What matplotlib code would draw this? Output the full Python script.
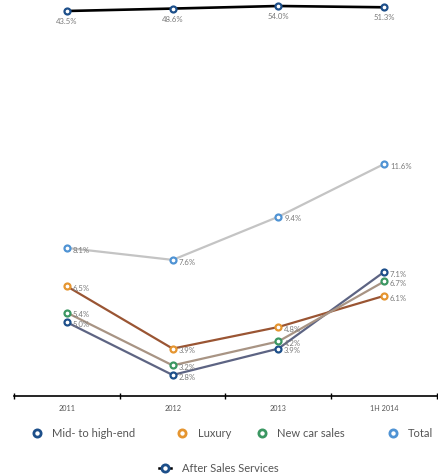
import matplotlib
matplotlib.use("Agg")
import matplotlib.pyplot as plt
from matplotlib.lines import Line2D

plt.rcParams['font.family'] = ['Lato', 'DejaVu Sans']

periods = ["2011", "2012", "2013", "1H 2014"]
mid_high = [5.0, 2.8, 3.9, 7.1]
luxury = [6.5, 3.9, 4.8, 6.1]
new_car = [5.4, 3.2, 4.2, 6.7]
total = [8.1, 7.6, 9.4, 11.6]
after_sales = [43.5, 48.6, 54.0, 51.3]

series = [
    ("Mid- to high-end", mid_high, "#5d6483", "#1d4f8a"),
    ("Luxury", luxury, "#9a5533", "#e59530"),
    ("New car sales", new_car, "#a89484", "#3b9762"),
    ("Total", total, "#c4c4c4", "#4f93d4"),
]

fig = plt.figure(figsize=(4.39, 4.77), dpi=100)
ax = fig.add_axes([14 / 439, 80 / 477, 423 / 439, 397 / 477])
ax2 = ax.twinx()

x = range(len(periods))
label_color = "#7a7a7a"

for name, vals, lc, mc in series:
    ax.plot(x, vals, color=lc, lw=1.6, zorder=2)
    ax.plot(x, vals, ls="none", marker="o", ms=4.3, mfc="white", mec=mc,
            mew=1.6, zorder=3)
    for xi, v in zip(x, vals):
        ax.text(xi + 0.055, v - 0.05, f"{v:.1f}%", fontsize=5.6, color=label_color,
                va="center", ha="left", zorder=4)

# after sales share sits on its own scale at the top
ax2.plot(x, after_sales, color="black", lw=1.9, zorder=2)
ax2.plot(x, after_sales, ls="none", marker="o", ms=4.3, mfc="white",
         mec="#1d4f8a", mew=1.6, zorder=3)
for xi, v in zip(x, after_sales):
    ax2.text(xi, v - 20, f"{v:.1f}%", fontsize=5.6, color=label_color,
             ha="center", va="center")

ax.set_xlim(-0.5, 3.5)
ax.set_ylim(1.924, 18.48)
ax2.set_ylim(-765, 68.7)

for a in (ax, ax2):
    for s in ("top", "left", "right"):
        a.spines[s].set_visible(False)
    a.set_yticks([])
ax2.spines["bottom"].set_visible(False)
ax.spines["bottom"].set_linewidth(1.2)

ax.set_xticks([-0.5, 0.5, 1.5, 2.5, 3.5])
ax.set_xticklabels([])
ax.tick_params(axis="x", direction="inout", length=5, width=1)
for xi, p in zip(x, periods):
    ax.text(xi, -0.02, p, transform=ax.get_xaxis_transform(), fontsize=5.2,
            color="#555555", ha="center", va="top")

# legend
def legend_item(mx, ty, tx, label, mc, line=False):
    if line:
        fig.add_artist(Line2D([(mx - 6) / 439, (mx + 6) / 439], [1 - ty / 477] * 2,
                              color="black", lw=1.8))
    fig.add_artist(Line2D([mx / 439], [1 - ty / 477], marker="o", ms=5.2,
                          mfc="white", mec=mc, mew=2, ls="none"))
    fig.text(tx / 439, 1 - ty / 477, label, fontsize=8, color="#555555",
             va="center", ha="left")

legend_item(37, 434, 52, "Mid- to high-end", "#1d4f8a")
legend_item(182, 434, 198, "Luxury", "#e59530")
legend_item(262, 434, 277, "New car sales", "#3b9762")
legend_item(393, 434, 408, "Total", "#4f93d4")
legend_item(165, 469, 182, "After Sales Services", "#1d4f8a", line=True)

fig.savefig("out.png", dpi=100)
